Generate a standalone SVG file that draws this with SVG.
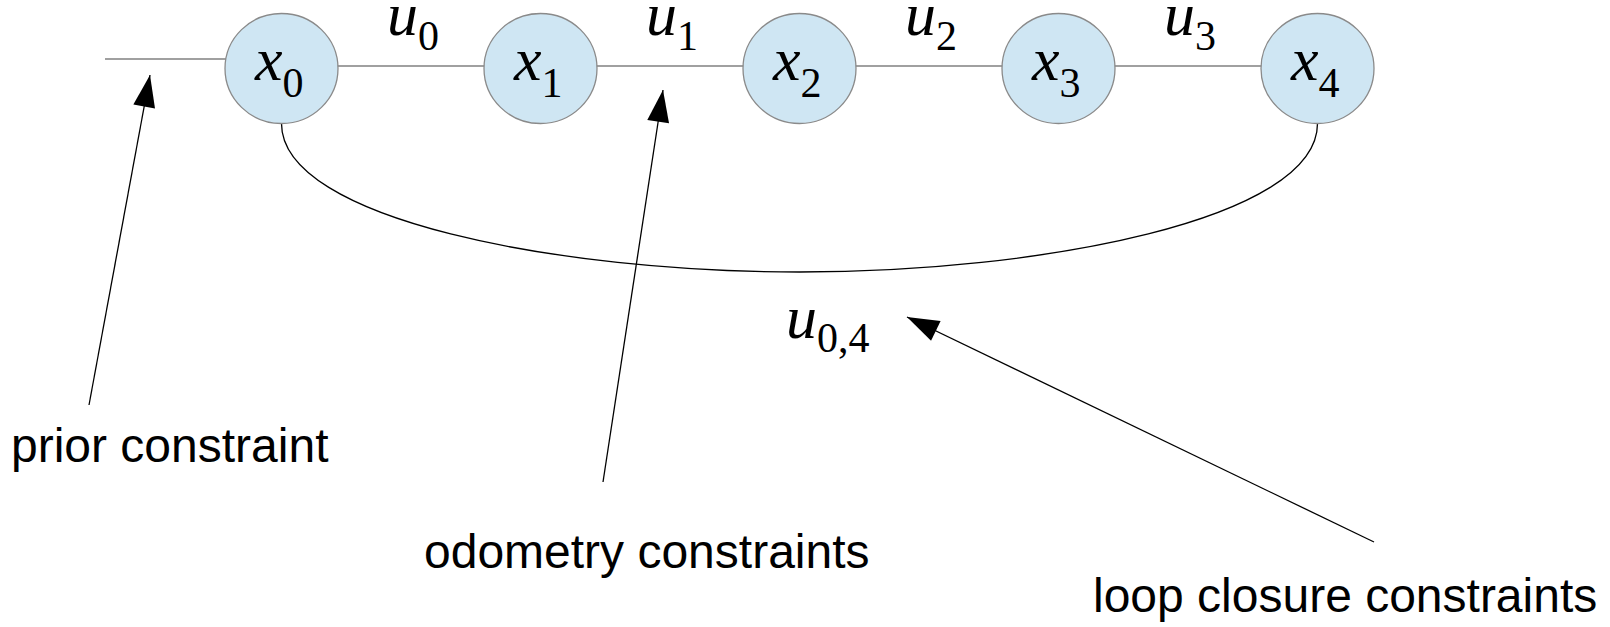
<svg xmlns="http://www.w3.org/2000/svg" width="1610" height="627" viewBox="0 0 1610 627">
<style>
.node{fill:#cfe6f3;stroke:#8a8a8a;stroke-width:1.3}
.edge{stroke:#808080;stroke-width:1.6;fill:none}
.loop{stroke:#000;stroke-width:1.3;fill:none}
.ptr{stroke:#000;stroke-width:1.3;fill:none;marker-end:url(#ah)}
.math{font-family:"Liberation Serif","Times New Roman",serif;font-style:italic;font-size:62px;fill:#000}
.sub{font-style:normal;font-size:42px}
.lbl{font-family:"Liberation Sans",Arial,sans-serif;font-size:48px;fill:#000}
</style>
<defs>
<marker id="ah" markerUnits="userSpaceOnUse" markerWidth="33" markerHeight="22" refX="32" refY="11" orient="auto" overflow="visible">
<path d="M0,0 L32,11 L0,22 Z" fill="#000"/>
</marker>
</defs>
<g id="connectors">
<line class="edge" x1="105" y1="59" x2="230" y2="59"/>
<line class="edge" x1="281.5" y1="66" x2="540.5" y2="66"/>
<line class="edge" x1="540.5" y1="66" x2="799.5" y2="66"/>
<line class="edge" x1="799.5" y1="66" x2="1058.5" y2="66"/>
<line class="edge" x1="1058.5" y1="66" x2="1317.5" y2="66"/>
<path class="loop" d="M281.5,123.5 C281.5,220 560,272 799.5,272 C1039,272 1317.5,220 1317.5,123.5"/>
</g>
<g id="x0"><ellipse class="node" cx="281.5" cy="68.5" rx="56.5" ry="55"/><text class="math" x="255" y="80">x<tspan class="sub" dy="17">0</tspan></text></g>
<g id="x1"><ellipse class="node" cx="540.5" cy="68.5" rx="56.5" ry="55"/><text class="math" x="514" y="80">x<tspan class="sub" dy="17">1</tspan></text></g>
<g id="x2"><ellipse class="node" cx="799.5" cy="68.5" rx="56.5" ry="55"/><text class="math" x="773" y="80">x<tspan class="sub" dy="17">2</tspan></text></g>
<g id="x3"><ellipse class="node" cx="1058.5" cy="68.5" rx="56.5" ry="55"/><text class="math" x="1032" y="80">x<tspan class="sub" dy="17">3</tspan></text></g>
<g id="x4"><ellipse class="node" cx="1317.5" cy="68.5" rx="56.5" ry="55"/><text class="math" x="1291" y="80">x<tspan class="sub" dy="17">4</tspan></text></g>
<g id="edge-labels">
<text class="math" x="387" y="35">u<tspan class="sub" dy="15">0</tspan></text>
<text class="math" x="646" y="35">u<tspan class="sub" dy="15">1</tspan></text>
<text class="math" x="905" y="35">u<tspan class="sub" dy="15">2</tspan></text>
<text class="math" x="1164" y="35">u<tspan class="sub" dy="15">3</tspan></text>
<text class="math" x="786" y="338">u<tspan class="sub" dy="14">0,4</tspan></text>
</g>
<g id="annotations">
<line class="ptr" x1="89" y1="405" x2="150" y2="75"/>
<line class="ptr" x1="603" y1="482" x2="663" y2="90"/>
<line class="ptr" x1="1374" y1="542" x2="907" y2="317"/>
<text class="lbl" x="11" y="462">prior constraint</text>
<text class="lbl" x="424" y="568">odometry constraints</text>
<text class="lbl" x="1093" y="612">loop closure constraints</text>
</g>
</svg>
